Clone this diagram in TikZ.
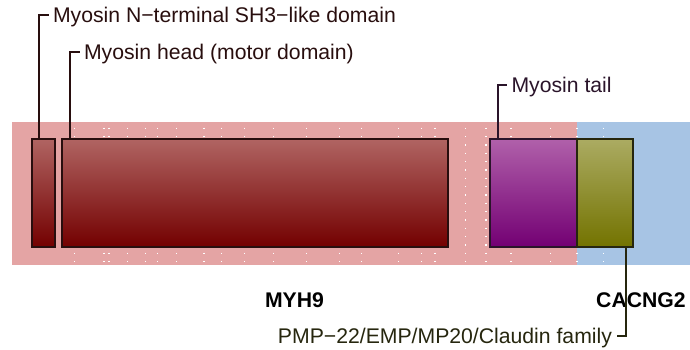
\documentclass[tikz,border=0pt]{standalone}
\usepackage{fontspec}
\setmainfont{Liberation Sans}
\usetikzlibrary{calc}

\definecolor{myhbg}{RGB}{228,164,164}
\definecolor{cacbg}{RGB}{167,196,228}
\definecolor{headtop}{RGB}{176,100,98}
\definecolor{headbot}{RGB}{115,0,0}
\definecolor{tailtop}{RGB}{176,96,170}
\definecolor{tailbot}{RGB}{115,0,115}
\definecolor{olivetop}{RGB}{171,171,98}
\definecolor{olivebot}{RGB}{115,115,0}
\definecolor{headink}{RGB}{40,14,14}
\definecolor{tailink}{RGB}{42,20,42}
\definecolor{oliveink}{RGB}{38,38,14}

\tikzset{
  region/.style={rectangle, inner sep=0pt, outer sep=0pt, draw=none, anchor=north west, minimum height=143pt},
  dombox/.style={rectangle, inner sep=0pt, outer sep=0pt, anchor=north west, line width=1.8pt, minimum height=107.4pt},
  pinlbl/.style={inner sep=0pt, outer sep=4.5pt, text depth=0pt, font=\fontsize{21.2}{24}\selectfont},
  genelbl/.style={inner sep=0pt, anchor=base, font=\fontsize{21.2}{24}\selectfont\bfseries},
  pin/.style={line width=2pt},
  griddots/.style={white, line width=1.3pt, dash pattern=on 1.3pt off 7.03pt}
}

\begin{document}
\begin{tikzpicture}[x=1pt, y=-1pt]
  \useasboundingbox (0,0) rectangle (690,350);
  % gene regions
  \node[region, fill=myhbg, minimum width=565pt] (myh9) at (12,122) {};
  \node[region, fill=cacbg, minimum width=113pt] (cacng2) at (577,122) {};
  \foreach \x in {74.7,104,109,127.7,145.7,157.7,176.7,204,221.7,244.7,273.7,306.7,339.7,361.7,398.3,421.7,435,465.3,486,511,550.3,577,603.3}
    \draw[griddots] (\x,127.7) -- (\x,265);
  % domains
  \node[dombox, top color=headtop, bottom color=headbot, draw=headink, minimum width=23.6pt] (sh3) at (31.7,139.3) {};
  \node[dombox, top color=headtop, bottom color=headbot, draw=headink, minimum width=386pt] (head) at (62.3,139.3) {};
  \node[dombox, top color=tailtop, bottom color=tailbot, draw=tailink, minimum width=86.4pt] (tail) at (490.3,139.3) {};
  \node[dombox, top color=olivetop, bottom color=olivebot, draw=oliveink, minimum width=56.6pt] (claudin) at (576.7,139.3) {};
  % labels
  \node[pinlbl, anchor=west, text=headink] (sh3lbl) at (48.5,15) {Myosin N−terminal SH3−like domain};
  \node[pinlbl, anchor=west, text=headink] (headlbl) at (79.5,51.7) {Myosin head (motor domain)};
  \node[pinlbl, anchor=west, text=tailink] (taillbl) at (507,85) {Myosin tail};
  \node[pinlbl, anchor=east, text=oliveink] (claulbl) at (616.5,336) {PMP−22/EMP/MP20/Claudin family};
  \node[genelbl] (myh9lbl) at (294.5,307) {MYH9};
  \node[genelbl] (cacng2lbl) at (641,307) {CACNG2};
  \draw[pin, headink] ($(sh3.north west)+(7.3,0)$) |- (sh3lbl.west);
  \draw[pin, headink] ($(head.north west)+(7.4,0)$) |- (headlbl.west);
  \draw[pin, tailink] ($(tail.north west)+(8,0)$) |- (taillbl.west);
  \draw[pin, oliveink] ($(claudin.south east)+(-7.3,0)$) |- (claulbl.east);
\end{tikzpicture}
\end{document}
